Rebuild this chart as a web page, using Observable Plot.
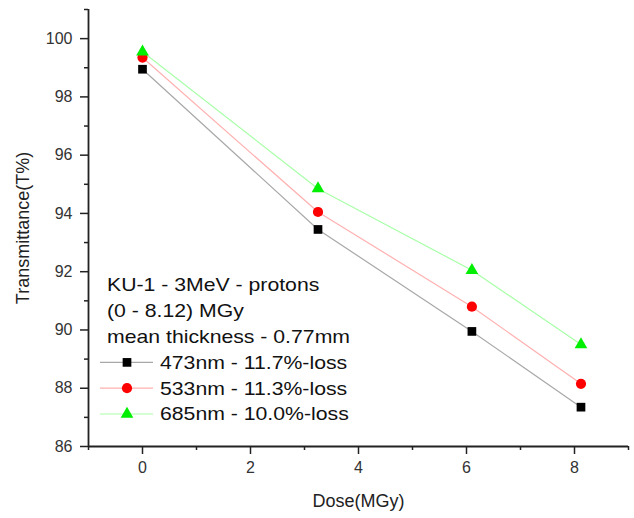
<!DOCTYPE html>
<html>
<head>
<meta charset="utf-8">
<script src="https://cdn.jsdelivr.net/npm/d3@7"></script>
<script src="https://cdn.jsdelivr.net/npm/@observablehq/plot@0.6"></script>
<style>
  html, body { margin: 0; padding: 0; background: #fff; }
  #chart { position: relative; width: 634px; height: 518px; }
</style>
</head>
<body>
<div id="chart"></div>
<script>
// ---- data ----
const dose = [0, 3.25, 6.1, 8.12];
const t473 = [98.95, 93.45, 89.95, 87.35];
const t533 = [99.35, 94.05, 90.8, 88.15];
const t685 = [99.55, 94.85, 92.05, 89.5];
const seriesNames = ["473nm - 11.7%-loss", "533nm - 11.3%-loss", "685nm - 10.0%-loss"];
const notes = ["KU-1 - 3MeV - protons", "(0 - 8.12) MGy", "mean thickness - 0.77mm"];
const xTicks = [0, 2, 4, 6, 8];
const xMinor = [-1, 1, 3, 5, 7, 9];
const yTicks = [86, 88, 90, 92, 94, 96, 98, 100];
const yMinor = [87, 89, 91, 93, 95, 97, 99, 101];
const xTitle = "Dose(MGy)";
const yTitle = "Transmittance(T%)";

// styles
const markerColors = ["#000000", "#ff0000", "#00ee00"];
const lineColors = ["#a8a8a8", "#ffb0b0", "#a8ffa8"];
const symbols = ["square", "circle", "triangle"];
const radii = [4.9, 5.1, 4.7];

const values = [t473, t533, t685];
const rows = [];
values.forEach((arr, s) => arr.forEach((v, i) => rows.push({series: seriesNames[s], s, dose: dose[i], t: v})));

const font = "'Liberation Sans', Arial, sans-serif";
const axisColor = "#222";

const marks = [];
seriesNames.forEach((name, s) => {
  const d = rows.filter(r => r.s === s);
  marks.push(Plot.line(d, {x: "dose", y: "t", stroke: lineColors[s], strokeWidth: 1.2}));
});
seriesNames.forEach((name, s) => {
  const d = rows.filter(r => r.s === s);
  marks.push(Plot.dot(d, {x: "dose", y: "t", symbol: symbols[s], r: radii[s], fill: markerColors[s], stroke: "none"}));
});

const chart = Plot.plot({
  width: 634,
  height: 518,
  marginLeft: 88,
  marginRight: 6,
  marginTop: 9,
  marginBottom: 72,
  style: {fontFamily: font, fontSize: "16px", color: "#222", background: "#fff"},
  x: {domain: [-1, 9]},
  y: {domain: [86, 101]},
  marks: [
    Plot.ruleY([86], {stroke: axisColor, strokeWidth: 1.8}),
    Plot.ruleX([-1], {stroke: axisColor, strokeWidth: 1.8}),
    Plot.axisX({ticks: xTicks, tickSize: 8, tickPadding: 7, stroke: axisColor, strokeWidth: 1.5, fill: "#333", fontSize: 16, label: null}),
    Plot.axisX({ticks: xMinor, tickSize: 4, stroke: axisColor, strokeWidth: 1.5, text: null, label: null}),
    Plot.axisX({ticks: [], label: xTitle, labelAnchor: "center", labelArrow: "none", labelOffset: 60, fontSize: 18, fill: "#222"}),
    Plot.axisY({ticks: yTicks, tickSize: 8, tickPadding: 8, stroke: axisColor, strokeWidth: 1.5, fill: "#333", fontSize: 16, label: null}),
    Plot.axisY({ticks: yMinor, tickSize: 4, stroke: axisColor, strokeWidth: 1.5, text: null, label: null}),
    Plot.axisY({ticks: [], label: yTitle, labelAnchor: "center", labelArrow: "none", labelOffset: 72, fontSize: 18, fill: "#222"}),
    ...marks
  ]
});
document.getElementById("chart").appendChild(chart);

// ---- legend / annotation block ----
const svg = d3.select(chart);
const g = svg.append("g").attr("font-family", font).attr("font-size", 18).attr("fill", "#111").attr("text-anchor", "start");
const lineH = 25.8;
const top0 = 285;
const stretch = 1.18;
notes.forEach((t, i) => {
  g.append("text").attr("transform", `translate(107,${top0 + i * lineH}) scale(${stretch},1)`).attr("dy", "0.35em").text(t);
});
seriesNames.forEach((name, s) => {
  const cy = top0 + (notes.length + s) * lineH;
  g.append("line").attr("x1", 100).attr("x2", 153).attr("y1", cy).attr("y2", cy)
    .attr("stroke", lineColors[s]).attr("stroke-width", 1.2);
  const sym = d3.symbol().type(s === 0 ? d3.symbolSquare : s === 1 ? d3.symbolCircle : d3.symbolTriangle)
    .size(Math.PI * radii[s] * radii[s]);
  g.append("path").attr("d", sym()).attr("transform", `translate(127,${cy})`).attr("fill", markerColors[s]);
  g.append("text").attr("transform", `translate(160,${cy}) scale(${stretch},1)`).attr("dy", "0.35em").text(name);
});
</script>
</body>
</html>
